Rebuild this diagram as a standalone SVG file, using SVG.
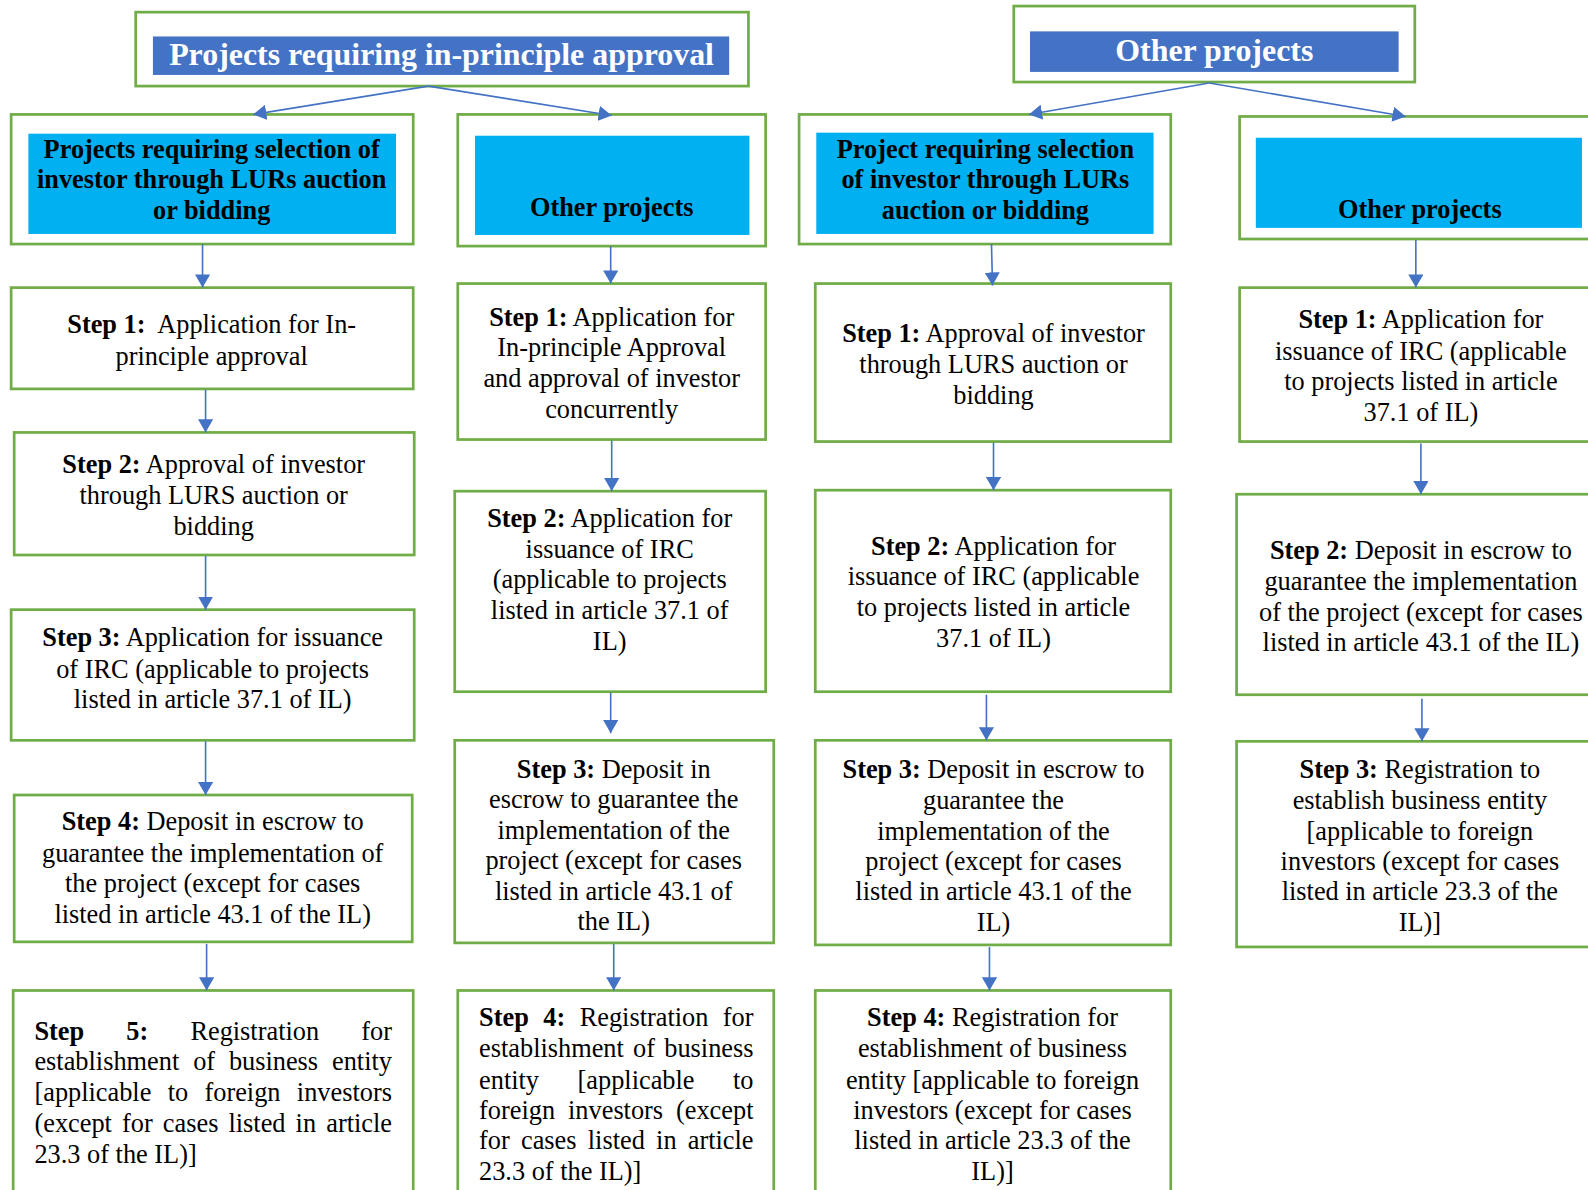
<svg xmlns="http://www.w3.org/2000/svg" width="1588" height="1190" viewBox="0 0 1588 1190">
<defs>
<style>
.box{fill:#fff;stroke:#70AD47;stroke-width:2.7}
.hdr{fill:#4472C4}
.sub{fill:#00B0F0}
.t{font-family:"Liberation Serif","Times New Roman",serif;font-size:26px;fill:#000}
.c{text-anchor:middle}
.e{text-anchor:end}
.b{font-weight:bold}
.w{fill:#fff;font-size:31.5px;font-weight:bold}
.conn line{stroke:#4472C4;stroke-width:1.6;marker-end:url(#ah)}
</style>
<marker id="ah" viewBox="0 0 13 15" refX="13" refY="7.5" markerWidth="13" markerHeight="15" markerUnits="userSpaceOnUse" orient="auto">
<path d="M0,0 L13,7.5 L0,15 z" fill="#4472C4"/>
</marker>
</defs>
<rect width="1588" height="1190" fill="#fff"/>
<g transform="scale(1.012755)">
<g id="hdrA">
<rect class="box" x="134" y="12" width="605" height="73"/>
<rect class="hdr" x="151" y="36" width="569" height="38"/>
<text class="t c w" x="436" y="64">Projects requiring in-principle approval</text>
</g>
<g id="hdrB">
<rect class="box" x="1001" y="6" width="396" height="75"/>
<rect class="hdr" x="1017" y="31" width="364" height="40"/>
<text class="t c w" x="1199" y="60">Other projects</text>
</g>
<g id="c1">
<rect class="box" x="11" y="113" width="397" height="128"/>
<rect class="sub" x="28" y="132" width="363" height="99"/>
<text class="t c b" x="209" y="156">Projects requiring selection of</text>
<text class="t c b" x="209" y="186">investor through LURs auction</text>
<text class="t c b" x="209" y="216">or bidding</text>
</g>
<g id="c2">
<rect class="box" x="452" y="113" width="304" height="130"/>
<rect class="sub" x="469" y="134" width="271" height="98"/>
<text class="t c b" x="604" y="213">Other projects</text>
</g>
<g id="c3">
<rect class="box" x="789" y="113" width="367" height="128"/>
<rect class="sub" x="806" y="131" width="333" height="100"/>
<text class="t c b" x="973" y="156">Project requiring selection</text>
<text class="t c b" x="973" y="186">of investor through LURs</text>
<text class="t c b" x="973" y="216">auction or bidding</text>
</g>
<g id="c4">
<rect class="box" x="1224" y="115" width="400" height="121"/>
<rect class="sub" x="1240" y="136" width="322" height="89"/>
<text class="t c b" x="1402" y="215">Other projects</text>
</g>

<g id="s1-1">
<rect class="box" x="11" y="284" width="397" height="100"/>
<text class="t c" x="209" y="329"><tspan class="b">Step 1:</tspan>&#160; Application for In-</text>
<text class="t c" x="209" y="360">principle approval</text>
</g>
<g id="s1-2">
<rect class="box" x="14" y="427" width="395" height="121"/>
<text class="t c" x="211" y="467"><tspan class="b">Step 2:</tspan> Approval of investor</text>
<text class="t c" x="211" y="498">through LURS auction or</text>
<text class="t c" x="211" y="528">bidding</text>
</g>
<g id="s1-3">
<rect class="box" x="11" y="602" width="398" height="129"/>
<text class="t c" x="210" y="638"><tspan class="b">Step 3:</tspan> Application for issuance</text>
<text class="t c" x="210" y="669">of IRC (applicable to projects</text>
<text class="t c" x="210" y="699">listed in article 37.1 of IL)</text>
</g>
<g id="s1-4">
<rect class="box" x="14" y="785" width="393" height="145"/>
<text class="t c" x="210" y="820"><tspan class="b">Step 4:</tspan> Deposit in escrow to</text>
<text class="t c" x="210" y="851">guarantee the implementation of</text>
<text class="t c" x="210" y="881">the project (except for cases</text>
<text class="t c" x="210" y="911">listed in article 43.1 of the IL)</text>
</g>
<g id="s1-5">
<rect class="box" x="13" y="978" width="395" height="230"/>
<text class="t" y="1027"><tspan class="b" x="34">Step</tspan><tspan class="b" x="124.7">5:</tspan><tspan x="188">Registration</tspan><tspan x="356.7">for</tspan></text>
<text class="t" y="1057"><tspan x="34">establishment</tspan><tspan x="190.7">of</tspan><tspan x="226">business</tspan><tspan x="327.8">entity</tspan></text>
<text class="t" y="1087"><tspan x="34">[applicable</tspan><tspan x="165.6">to</tspan><tspan x="201.9">foreign</tspan><tspan x="293.1">investors</tspan></text>
<text class="t" y="1118"><tspan x="34">(except</tspan><tspan x="120.5">for</tspan><tspan x="160.8">cases</tspan><tspan x="225.6">listed</tspan><tspan x="291.9">in</tspan><tspan x="322.1">article</tspan></text>
<text class="t" x="34" y="1148">23.3 of the IL)]</text>
</g>

<g id="s2-1">
<rect class="box" x="452" y="280" width="304" height="154"/>
<text class="t c" x="604" y="322"><tspan class="b">Step 1:</tspan> Application for</text>
<text class="t c" x="604" y="352">In-principle Approval</text>
<text class="t c" x="604" y="382">and approval of investor</text>
<text class="t c" x="604" y="413">concurrently</text>
</g>
<g id="s2-2">
<rect class="box" x="449" y="485" width="307" height="198"/>
<text class="t c" x="602" y="520"><tspan class="b">Step 2:</tspan> Application for</text>
<text class="t c" x="602" y="551">issuance of IRC</text>
<text class="t c" x="602" y="581">(applicable to projects</text>
<text class="t c" x="602" y="611">listed in article 37.1 of</text>
<text class="t c" x="602" y="642">IL)</text>
</g>
<g id="s2-3">
<rect class="box" x="449" y="731" width="315" height="200"/>
<text class="t c" x="606" y="768"><tspan class="b">Step 3:</tspan> Deposit in</text>
<text class="t c" x="606" y="798">escrow to guarantee the</text>
<text class="t c" x="606" y="828">implementation of the</text>
<text class="t c" x="606" y="858">project (except for cases</text>
<text class="t c" x="606" y="889">listed in article 43.1 of</text>
<text class="t c" x="606" y="918">the IL)</text>
</g>
<g id="s2-4">
<rect class="box" x="452" y="978" width="312" height="230"/>
<text class="t" y="1013"><tspan class="b" x="473">Step</tspan><tspan class="b" x="536.4">4:</tspan><tspan x="572.4">Registration</tspan><tspan x="713.7">for</tspan></text>
<text class="t" y="1044"><tspan x="473">establishment</tspan><tspan x="625.1">of</tspan><tspan x="655.9">business</tspan></text>
<text class="t" y="1075"><tspan x="473">entity</tspan><tspan x="570.3">[applicable</tspan><tspan x="723.8">to</tspan></text>
<text class="t" y="1105"><tspan x="473">foreign</tspan><tspan x="560.9">investors</tspan><tspan x="667.5">(except</tspan></text>
<text class="t" y="1135"><tspan x="473">for</tspan><tspan x="514.4">cases</tspan><tspan x="580.4">listed</tspan><tspan x="647.8">in</tspan><tspan x="679.1">article</tspan></text>
<text class="t" x="473" y="1165">23.3 of the IL)]</text>
</g>

<g id="s3-1">
<rect class="box" x="805" y="280" width="351" height="156"/>
<text class="t c" x="981" y="338"><tspan class="b">Step 1:</tspan> Approval of investor</text>
<text class="t c" x="981" y="368">through LURS auction or</text>
<text class="t c" x="981" y="399">bidding</text>
</g>
<g id="s3-2">
<rect class="box" x="805" y="484" width="351" height="199"/>
<text class="t c" x="981" y="548"><tspan class="b">Step 2:</tspan> Application for</text>
<text class="t c" x="981" y="578">issuance of IRC (applicable</text>
<text class="t c" x="981" y="608">to projects listed in article</text>
<text class="t c" x="981" y="639">37.1 of IL)</text>
</g>
<g id="s3-3">
<rect class="box" x="805" y="731" width="351" height="202"/>
<text class="t c" x="981" y="768"><tspan class="b">Step 3:</tspan> Deposit in escrow to</text>
<text class="t c" x="981" y="799">guarantee the</text>
<text class="t c" x="981" y="829">implementation of the</text>
<text class="t c" x="981" y="859">project (except for cases</text>
<text class="t c" x="981" y="889">listed in article 43.1 of the</text>
<text class="t c" x="981" y="919">IL)</text>
</g>
<g id="s3-4">
<rect class="box" x="805" y="978" width="351" height="230"/>
<text class="t c" x="980" y="1013"><tspan class="b">Step 4:</tspan> Registration for</text>
<text class="t c" x="980" y="1044">establishment of business</text>
<text class="t c" x="980" y="1075">entity [applicable to foreign</text>
<text class="t c" x="980" y="1105">investors (except for cases</text>
<text class="t c" x="980" y="1135">listed in article 23.3 of the</text>
<text class="t c" x="980" y="1165">IL)]</text>
</g>

<g id="s4-1">
<rect class="box" x="1224" y="284" width="400" height="152"/>
<text class="t c" x="1403" y="324"><tspan class="b">Step 1:</tspan> Application for</text>
<text class="t c" x="1403" y="355">issuance of IRC (applicable</text>
<text class="t c" x="1403" y="385">to projects listed in article</text>
<text class="t c" x="1403" y="416">37.1 of IL)</text>
</g>
<g id="s4-2">
<rect class="box" x="1221" y="488" width="400" height="198"/>
<text class="t c" x="1403" y="552"><tspan class="b">Step 2:</tspan> Deposit in escrow to</text>
<text class="t c" x="1403" y="583">guarantee the implementation</text>
<text class="t c" x="1403" y="613">of the project (except for cases</text>
<text class="t c" x="1403" y="643">listed in article 43.1 of the IL)</text>
</g>
<g id="s4-3">
<rect class="box" x="1221" y="732" width="400" height="203"/>
<text class="t c" x="1402" y="768"><tspan class="b">Step 3:</tspan> Registration to</text>
<text class="t c" x="1402" y="799">establish business entity</text>
<text class="t c" x="1402" y="829">[applicable to foreign</text>
<text class="t c" x="1402" y="859">investors (except for cases</text>
<text class="t c" x="1402" y="889">listed in article 23.3 of the</text>
<text class="t c" x="1402" y="919">IL)]</text>
</g>

<g id="connectors" class="conn">
<line x1="423" y1="85" x2="250" y2="113"/>
<line x1="423" y1="85" x2="604" y2="114"/>
<line x1="1194" y1="82" x2="1016" y2="113"/>
<line x1="1194" y1="82" x2="1388" y2="115"/>
<line x1="200" y1="241" x2="200" y2="284"/>
<line x1="203" y1="385" x2="203" y2="427"/>
<line x1="203" y1="549" x2="203" y2="602"/>
<line x1="203" y1="732" x2="203" y2="785"/>
<line x1="204" y1="932" x2="204" y2="978"/>
<line x1="603" y1="243" x2="603" y2="280"/>
<line x1="604" y1="435" x2="604" y2="485"/>
<line x1="603" y1="684" x2="603" y2="724"/>
<line x1="606" y1="932" x2="606" y2="978"/>
<line x1="979" y1="241" x2="980" y2="282"/>
<line x1="981" y1="437" x2="981" y2="484"/>
<line x1="974" y1="686" x2="974" y2="731"/>
<line x1="977" y1="935" x2="977" y2="978"/>
<line x1="1398" y1="237" x2="1398" y2="284"/>
<line x1="1403" y1="438" x2="1403" y2="488"/>
<line x1="1404" y1="690" x2="1404" y2="732"/>
</g>
</g>
</svg>
